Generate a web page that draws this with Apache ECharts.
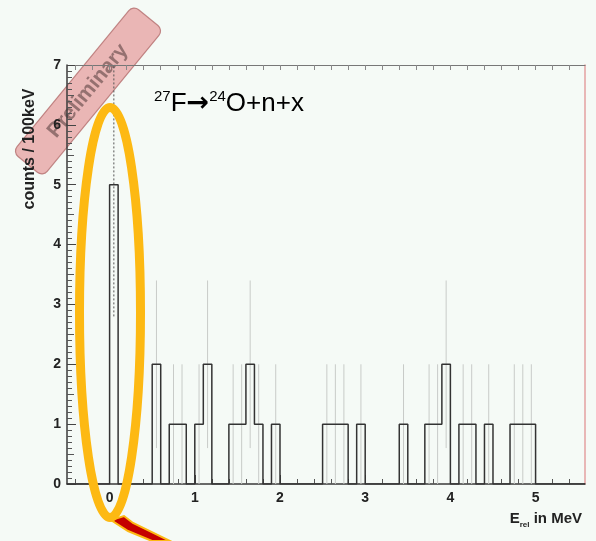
<!DOCTYPE html>
<html>
<head>
<meta charset="utf-8">
<script src="https://cdn.jsdelivr.net/npm/echarts@6/dist/echarts.min.js"></script>
<style>
html,body{margin:0;padding:0;background:#f5faf6;}
#chart{width:596px;height:541px;}
</style>
</head>
<body>
<div id="chart"></div>
<script>
// ---- data ----
const binWidth = 0.1; // MeV (100 keV bins)
const binStart = [0.0, 0.5, 0.7, 0.8, 1.0, 1.1, 1.4, 1.5, 1.6, 1.7, 1.9, 2.5, 2.6, 2.7, 2.9, 3.4, 3.7, 3.8, 3.9, 4.1, 4.2, 4.4, 4.7, 4.8, 4.9];
const counts   = [5,   2,   1,   1,   1,   2,   1,   1,   2,   1,   1,   1,   1,   1,   1,   1,   1,   1,   2,   1,   1,   1,   1,   1,   1];
const errors   = [2.2, 1.4, 1.0, 1.0, 1.0, 1.4, 1.0, 1.0, 1.4, 1.0, 1.0, 1.0, 1.0, 1.0, 1.0, 1.0, 1.0, 1.0, 1.4, 1.0, 1.0, 1.0, 1.0, 1.0, 1.0];
const xMajorTicks = [0, 1, 2, 3, 4, 5];
const xMinorTicks = [-0.4, -0.2, 0.2, 0.4, 0.6, 0.8, 1.2, 1.4, 1.6, 1.8, 2.2, 2.4, 2.6, 2.8, 3.2, 3.4, 3.6, 3.8, 4.2, 4.4, 4.6, 4.8, 5.2, 5.4];
const yTickLabels = [0, 1, 2, 3, 4, 5, 6, 7];
const yHalfTicks = [0.5, 1.5, 2.5, 3.5, 4.5, 5.5, 6.5];
const xMin = -0.5, xMax = 5.58;

// y minor tick positions (every 0.1 count)
const yMinorTicks = [];
for (let k = 1; k < 70; k++) { if (k % 5 !== 0) yMinorTicks.push(k / 10); }

// histogram outline points (step 'end')
const histPts = [];
let prevEnd = xMin;
binStart.forEach((s, i) => {
  if (s - prevEnd > 1e-6) histPts.push([prevEnd, 0]);
  histPts.push([s, counts[i]]);
  prevEnd = s + binWidth;
});
histPts.push([prevEnd, 0]);
histPts.push([xMax, 0]);

const errData = binStart.map((s, i) => [s + binWidth / 2, counts[i], errors[i]]);

const chart = echarts.init(document.getElementById('chart'), null, {renderer: 'canvas'});
const fontFam = '"Liberation Sans", Arial, sans-serif';

chart.setOption({
  backgroundColor: '#f5faf6',
  animation: false,
  grid: {left: 67, top: 65, right: 11, bottom: 57},
  xAxis: [
    {
      type: 'value', min: xMin, max: xMax, position: 'bottom',
      axisLine: {show: true, onZero: false, lineStyle: {color: '#3a3a3a', width: 1.5}},
      axisTick: {show: true, inside: true, length: 9, customValues: xMajorTicks, lineStyle: {color: '#444', width: 1}},
      axisLabel: {show: true, customValues: xMajorTicks, margin: 7, fontSize: 14, fontWeight: 'bold', color: '#222', fontFamily: fontFam},
      splitLine: {show: false}
    },
    {
      type: 'value', min: xMin, max: xMax, position: 'bottom',
      axisLine: {show: false, onZero: false},
      axisTick: {show: true, inside: true, length: 5, customValues: xMinorTicks, lineStyle: {color: '#555', width: 1}},
      axisLabel: {show: false},
      splitLine: {show: false}
    },
    {
      type: 'value', min: xMin, max: xMax, position: 'top',
      axisLine: {show: true, onZero: false, lineStyle: {color: '#777', width: 1.2}},
      axisTick: {show: true, inside: true, length: 5, customValues: xMinorTicks.concat(xMajorTicks), lineStyle: {color: '#888', width: 1}},
      axisLabel: {show: false},
      splitLine: {show: false}
    }
  ],
  yAxis: [
    {
      type: 'value', min: 0, max: 7, interval: 1, position: 'left',
      axisLine: {show: true, onZero: false, lineStyle: {color: '#3a3a3a', width: 1.5}},
      axisTick: {show: true, inside: true, length: 9, lineStyle: {color: '#444', width: 1}},
      axisLabel: {show: true, margin: 6, fontSize: 14, fontWeight: 'bold', color: '#222', fontFamily: fontFam,
        formatter: v => (yTickLabels.indexOf(v) >= 0 ? String(v) : '')},
      splitLine: {show: false}
    },
    {
      type: 'value', min: 0, max: 7, position: 'right',
      axisLine: {show: true, onZero: false, lineStyle: {color: '#e3a0a0', width: 1.5}},
      axisTick: {show: false}, axisLabel: {show: false}, splitLine: {show: false}
    },
    {
      type: 'value', min: 0, max: 7, position: 'left',
      axisLine: {show: false, onZero: false},
      axisTick: {show: true, inside: true, length: 5, customValues: yMinorTicks, lineStyle: {color: '#555', width: 1}},
      axisLabel: {show: false}, splitLine: {show: false}
    },
    {
      type: 'value', min: 0, max: 7, position: 'left',
      axisLine: {show: false, onZero: false},
      axisTick: {show: true, inside: true, length: 7, customValues: yHalfTicks, lineStyle: {color: '#555', width: 1}},
      axisLabel: {show: false}, splitLine: {show: false}
    }
  ],
  series: [
    {
      type: 'custom', xAxisIndex: 0, yAxisIndex: 0, clip: true, z: 1,
      data: errData,
      renderItem: function (params, api) {
        const x = api.value(0), c = api.value(1), e = api.value(2);
        const p1 = api.coord([x, Math.max(0, c - e)]);
        const p2 = api.coord([x, c + e]);
        const first = params.dataIndex === 0;
        return {
          type: 'line',
          shape: {x1: p1[0], y1: p1[1], x2: p2[0], y2: p2[1]},
          style: first ? {stroke: '#555', lineWidth: 1, lineDash: [2, 2]} : {stroke: '#c8cbc8', lineWidth: 1}
        };
      }
    },
    {
      type: 'line', xAxisIndex: 0, yAxisIndex: 0, step: 'end', symbol: 'none', z: 3,
      lineStyle: {color: '#333', width: 1.5},
      data: histPts
    }
  ],
  graphic: [
    {
      type: 'group', x: 88, y: 91, rotation: 0.883, z: 10,
      children: [
        {type: 'rect', shape: {x: -95, y: -19.5, width: 190, height: 39, r: 7},
          style: {fill: 'rgba(228,140,140,0.62)', stroke: 'rgba(180,110,110,0.8)', lineWidth: 1.2}},
        {type: 'text', x: 0, y: 0,
          style: {text: 'Preliminary', font: 'bold 21px ' + fontFam, fill: 'rgba(120,90,90,0.75)', textAlign: 'center', textVerticalAlign: 'middle'}}
      ]
    },
    {
      type: 'text', left: 154, top: 89, z: 10,
      style: {
        text: '{s|27}{n|F}{a|→}{s|24}{n|O+n+x}',
        rich: {
          s: {fontSize: 15, fontFamily: fontFam, fill: '#000', verticalAlign: 'top', lineHeight: 30},
          n: {fontSize: 26, fontFamily: fontFam, fill: '#000', lineHeight: 30},
          a: {fontSize: 27, fontFamily: '"DejaVu Sans", sans-serif', fontWeight: 'bold', fill: '#000', lineHeight: 30}
        }
      }
    },
    {
      type: 'text', x: 30, y: 149, rotation: Math.PI / 2, z: 10,
      style: {text: 'counts / 100keV', font: 'bold 16px ' + fontFam, fill: '#222', textAlign: 'center', textVerticalAlign: 'middle'}
    },
    {
      type: 'text', right: 14, top: 511, z: 10,
      style: {
        text: '{e|E}{r|rel}{e| in MeV}',
        rich: {
          e: {fontSize: 15, fontWeight: 'bold', fontFamily: fontFam, fill: '#222', lineHeight: 20},
          r: {fontSize: 8, fontWeight: 'bold', fontFamily: fontFam, fill: '#222', verticalAlign: 'bottom', lineHeight: 14}
        }
      }
    },
    {
      type: 'ellipse', z: 20,
      shape: {cx: 110, cy: 312.5, rx: 30.5, ry: 205},
      style: {fill: 'none', stroke: '#fdb913', lineWidth: 9}
    },
    {
      type: 'polygon', z: 19,
      shape: {points: [[111, 520], [124, 516], [133, 523], [170, 541], [152, 541], [128, 531]]},
      style: {fill: '#c40000', stroke: '#fdb913', lineWidth: 2}
    }
  ]
});
</script>
</body>
</html>
